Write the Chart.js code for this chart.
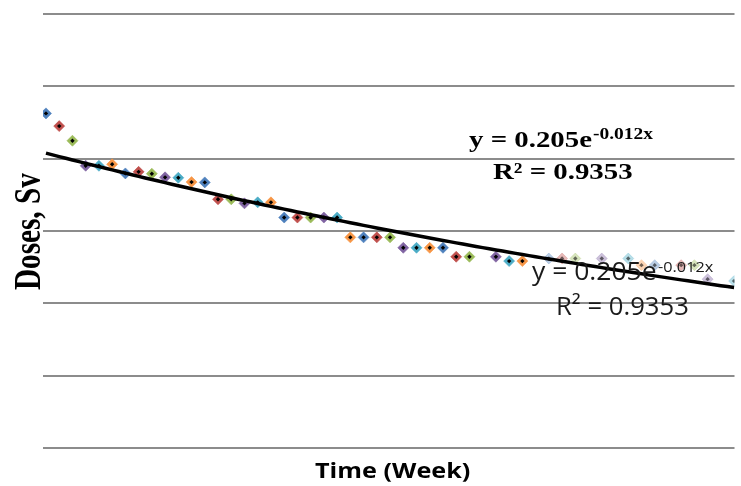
<!DOCTYPE html>
<html>
<head>
<meta charset="utf-8">
<script src="https://cdn.jsdelivr.net/npm/chart.js@4.4.1/dist/chart.umd.min.js"></script>
<style>
html,body{margin:0;padding:0;background:#fff;}
#wrap{width:741px;height:486px;position:relative;}
canvas{display:block;}
</style>
</head>
<body>
<div id="wrap"><canvas id="c" width="741" height="486"></canvas></div>
<script>
// ---- data ----
const WEEKS = [1,2,3,4,5,6,7,8,9,10,11,12,13,14,15,16,17,18,19,20,21,22,23,24,25,26,27,28,29,30,31,32,33,
               35,36,37,39,40,41,43,45,46,47,49,50,51,53];
const DOSES = [0.2313,0.2225,0.2124,0.1951,0.1951,0.1961,0.1898,0.1909,0.1896,0.1871,0.1868,0.1838,0.1836,
               0.1719,0.1719,0.1691,0.1698,0.1698,
               0.1593,0.1593,0.1593,0.1593,0.1593,
               0.1456,0.1456,0.1456,0.1456,
               0.1384,0.1384,0.1384,0.1384,
               0.1322,0.1322,0.1322,
               0.1292,0.1292,
               0.1310,0.1310,0.1310,0.1310,0.1310,
               0.1264,0.1264,0.1264,0.1264,
               0.1167,0.1154];
const Y_TICKS = [0, 0.05, 0.10, 0.15, 0.20, 0.25, 0.30];
// exponential trendline y = a * e^(b x)
const TREND_A = 0.2062;
const TREND_B = -0.0117;
const EQ_MAIN = 'y = 0.205e';
const EQ_EXP = '-0.012x';
const R2_TEXT = 'R\u00B2 = 0.9353';
const X_TITLE = 'Time (Week)';
const Y_TITLE = 'Doses, Sv';

// ---- styles ----
const PALETTE = ['#4F81BD','#C0504D','#9BBB59','#8064A2','#4BACC6','#F79646'];
const FADE_FROM = 36;

function hexA(hex, a){
  const n = parseInt(hex.slice(1),16);
  return 'rgba(' + (n>>16&255) + ',' + (n>>8&255) + ',' + (n&255) + ',' + a + ')';
}

const points = WEEKS.map((w,i)=>({x:w, y:DOSES[i]}));
const trendX = [];
for (let w = WEEKS[0]; w <= WEEKS[WEEKS.length-1]; w += 0.5) trendX.push(w);
const trend = trendX.map(w=>({x:w, y:TREND_A*Math.exp(TREND_B*w)}));

function fitText(ctx, text, left, baseline, width, font, color){
  ctx.save();
  ctx.font = font; ctx.fillStyle = color;
  ctx.textAlign = 'left'; ctx.textBaseline = 'alphabetic';
  const m = ctx.measureText(text);
  const ink = m.actualBoundingBoxLeft + m.actualBoundingBoxRight;
  ctx.translate(left, baseline);
  ctx.scale(width/ink, 1);
  ctx.fillText(text, m.actualBoundingBoxLeft, 0);
  ctx.restore();
}

const textPlugin = {
  id:'texts',
  afterDraw(chart){
    const ctx = chart.ctx;
    // bold serif equation
    fitText(ctx, EQ_MAIN, 469, 147, 123, 'bold 22.5px "Liberation Serif"', '#000');
    fitText(ctx, EQ_EXP, 593, 139, 60, 'bold 16px "Liberation Serif"', '#000');
    fitText(ctx, R2_TEXT, 493, 179, 139, 'bold 23px "Liberation Serif"', '#000');
    // sans equation
    fitText(ctx, EQ_MAIN, 532, 279.5, 124, '26px "Open Sans"', '#1a1a1a');
    fitText(ctx, EQ_EXP, 658, 271.5, 56, '14px "Open Sans"', '#1a1a1a');
    fitText(ctx, R2_TEXT, 558, 314.5, 130, '26px "Open Sans"', '#1a1a1a');
    // x title
    fitText(ctx, X_TITLE, 315, 477.5, 155, 'bold 21.5px "Open Sans"', '#000');
    // y title (rotated)
    ctx.save();
    ctx.font = 'bold 29.5px "Liberation Serif"'; ctx.fillStyle = '#000';
    ctx.textAlign = 'left'; ctx.textBaseline = 'alphabetic';
    const m = ctx.measureText(Y_TITLE);
    const ink = m.actualBoundingBoxLeft + m.actualBoundingBoxRight;
    ctx.translate(40, 290);
    ctx.scale(1.3, 117/ink);
    ctx.rotate(-Math.PI/2);
    ctx.fillText(Y_TITLE, m.actualBoundingBoxLeft, 0);
    ctx.restore();
  }
};

new Chart(document.getElementById('c'), {
  type:'scatter',
  data:{
    datasets:[
      {
        type:'line', label:'Trend', data:trend,
        borderColor:'#000', borderWidth:3.5, pointRadius:0, fill:false, tension:0, order:0
      },
      {
        label:'centers', data:points, pointStyle:'rectRot', pointRadius:2.2, borderWidth:0,
        backgroundColor:(c)=> c.dataIndex >= FADE_FROM ? 'rgba(0,0,0,0.55)' : '#000',
        order:1
      },
      {
        label:'Doses', data:points, pointStyle:'rectRot', pointRadius:5.5, borderWidth:1,
        backgroundColor:(c)=> hexA(PALETTE[c.dataIndex % PALETTE.length], c.dataIndex >= FADE_FROM ? 0.4 : 1),
        borderColor:(c)=> hexA(PALETTE[c.dataIndex % PALETTE.length], c.dataIndex >= FADE_FROM ? 0.25 : 0.6),
        order:2
      }
    ]
  },
  options:{
    responsive:false, animation:false, devicePixelRatio:1,
    layout:{padding:{left:43, right:0, top:14, bottom:38}},
    plugins:{legend:{display:false}, tooltip:{enabled:false}},
    scales:{
      x:{type:'linear', display:false, min:0.775, max:53.03},
      y:{type:'linear', min:Y_TICKS[0], max:Y_TICKS[Y_TICKS.length-1],
         afterBuildTicks:(s)=>{ s.ticks = Y_TICKS.map(v=>({value:v})); },
         ticks:{display:false},
         grid:{color:'#8c8c8c', lineWidth:2, drawTicks:false},
         border:{display:false}}
    }
  },
  plugins:[textPlugin]
});
</script>
</body>
</html>
